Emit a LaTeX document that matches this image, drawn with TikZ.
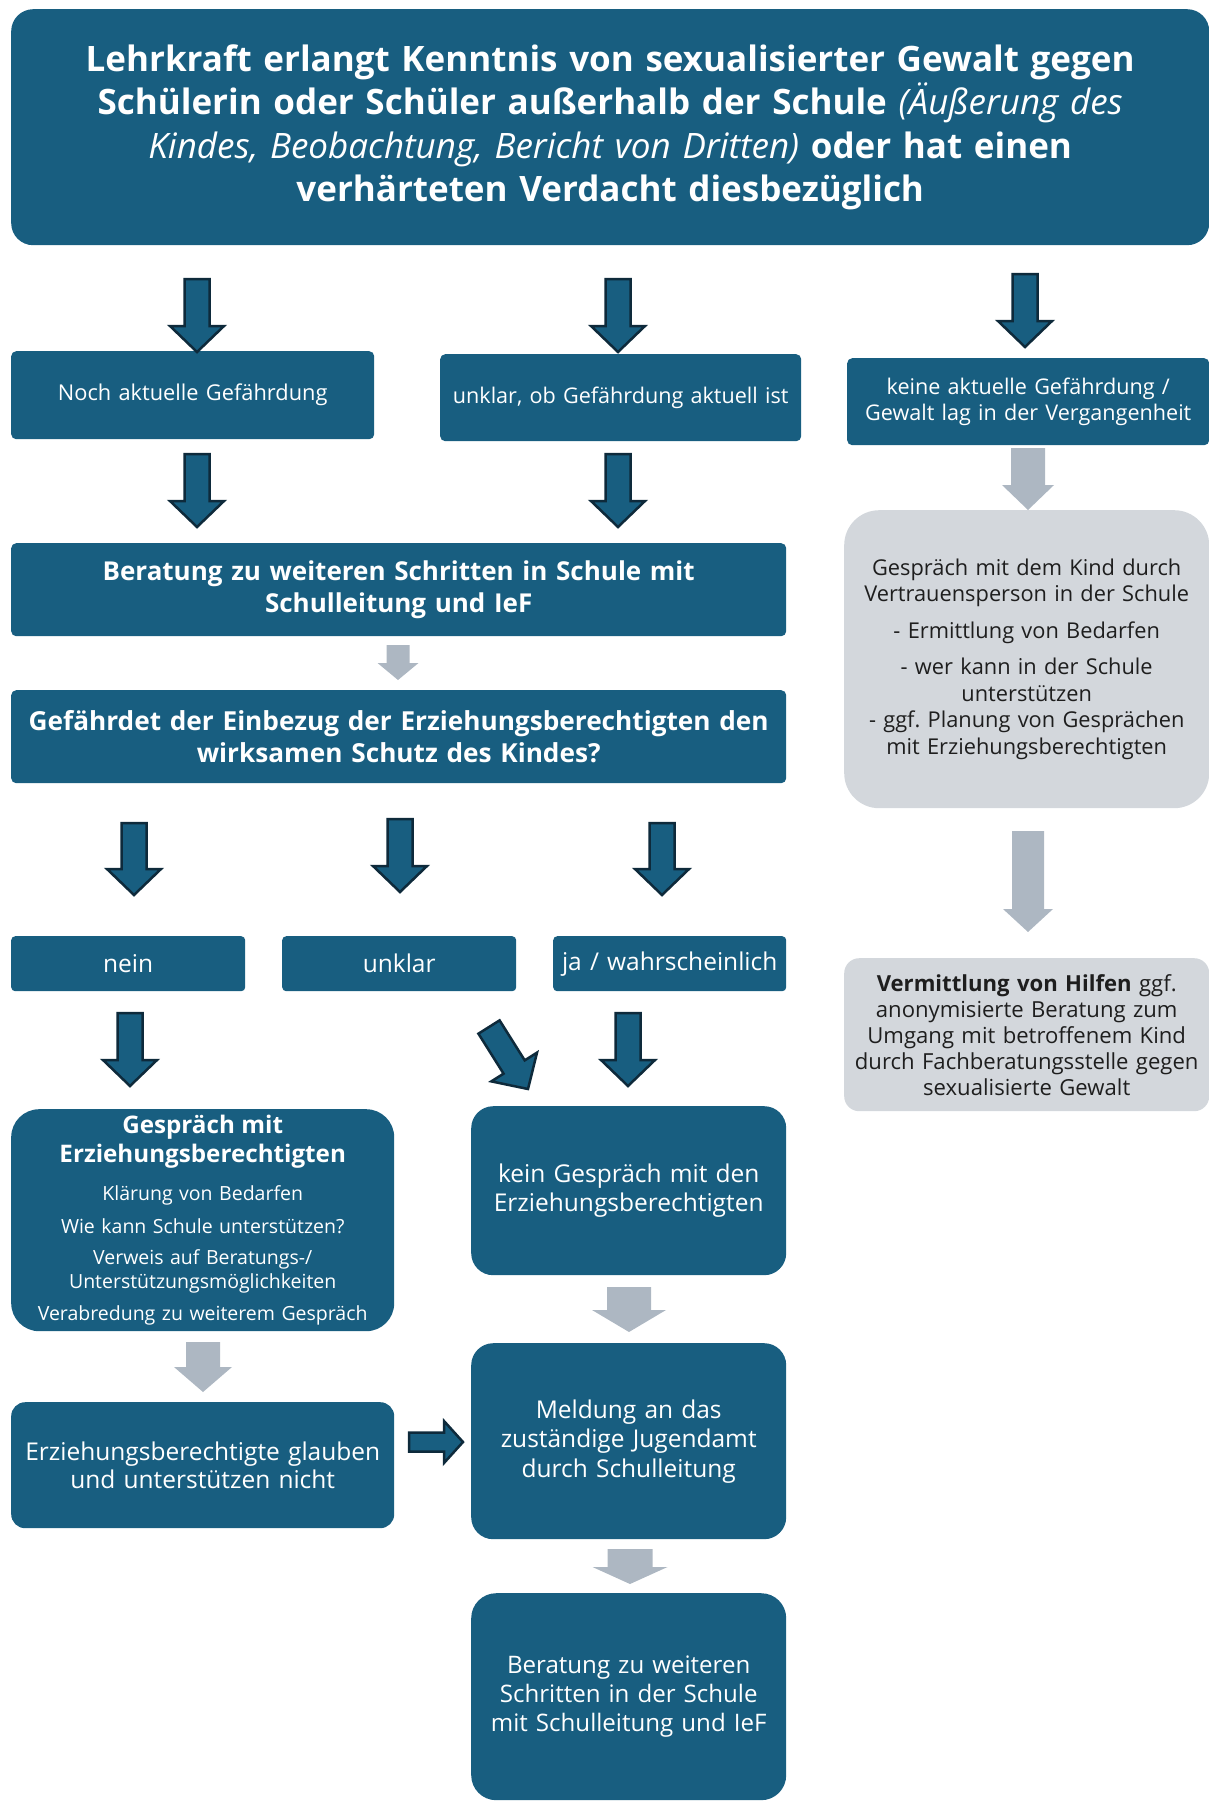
\documentclass[tikz,border=0pt]{standalone}
\usepackage{fontspec}
\setmainfont{Open Sans}
\usetikzlibrary{calc}
\definecolor{mblue}{HTML}{185E80}
\definecolor{mnavy}{HTML}{0E2A3B}
\definecolor{mgrey}{HTML}{ADB7C2}
\definecolor{mlight}{HTML}{D3D7DC}
\definecolor{mtext}{HTML}{1E1E1E}
\frenchspacing
\newcommand\fs[2]{\fontsize{#1pt}{#2pt}\selectfont}
% block arrow: style, from, to, half shaft, half head, head length
\newcommand\blockarrow[6]{%
  \coordinate (ba-n) at ($(#3)!#6pt!(#2)$);
  \path[#1] ($(#2)!#4pt!90:(#3)$) -- ($(ba-n)!#4pt!90:(#3)$) -- ($(ba-n)!#5pt!90:(#3)$) -- (#3)
    -- ($(ba-n)!#5pt!-90:(#3)$) -- ($(ba-n)!#4pt!-90:(#3)$) -- ($(#2)!#4pt!-90:(#3)$) -- cycle;}
\begin{document}
\begin{tikzpicture}[x=1pt,y=-1pt,
  bluebox/.style={fill=mblue, text=white, inner sep=0pt, anchor=north west, align=center},
  greybox/.style={fill=mlight, text=mtext, inner sep=0pt, anchor=north west, align=center},
  darrow/.style={fill=mblue, draw=mnavy, line width=2.5pt, line join=miter},
  garrow/.style={fill=mgrey}]
\useasboundingbox (0,0) rectangle (1209,1801);

\node[bluebox, rounded corners=22pt, text width=1198pt, minimum height=236pt, font=\fs{35}{43.5}] (title) at (11,9)
 {\textbf{Lehrkraft erlangt Kenntnis von sexualisierter Gewalt gegen}\\
  \textbf{Schülerin oder Schüler außerhalb der Schule} \textit{(Äußerung des}\\
  \textit{Kindes, Beobachtung, Bericht von Dritten)} \textbf{oder hat einen}\\
  \textbf{verhärteten Verdacht diesbezüglich}\par};

\node[bluebox, rounded corners=5pt, text width=363pt, minimum height=88pt, font=\fs{21.8}{26}] (n1) at (11,351)
 {Noch aktuelle Gefährdung\par};
\node[bluebox, rounded corners=5pt, text width=361pt, minimum height=87pt, font=\fs{21.6}{26}] (n2) at (440,354)
 {unklar, ob Gefährdung aktuell ist\par};
\node[bluebox, rounded corners=5pt, text width=362pt, minimum height=87pt, font=\fs{21.6}{26}] (n3) at (847,358)
 {keine aktuelle Gefährdung /\\Gewalt lag in der Vergangenheit\par};

\node[bluebox, rounded corners=5pt, text width=775pt, minimum height=93pt, font=\fs{26}{32}\bfseries] (beratung) at (11,543)
 {Beratung zu weiteren Schritten in Schule mit\\Schulleitung und IeF\par};
\node[bluebox, rounded corners=5pt, text width=775pt, minimum height=93pt, font=\fs{26.2}{32}\bfseries] (frage) at (11,690)
 {Gefährdet der Einbezug der Erziehungsberechtigten den\\wirksamen Schutz des Kindes?\par};

\node[greybox, rounded corners=35pt, text width=365pt, minimum height=298pt, font=\fs{21.8}{26.5}] (kind) at (844,510)
 {Gespräch mit dem Kind durch\\Vertrauensperson in der Schule\\[10pt]
  - Ermittlung von Bedarfen\\[10pt]- wer kann in der Schule\\unterstützen\\
  - ggf. Planung von Gesprächen\\mit Erziehungsberechtigten\par};
\node[greybox, rounded corners=15pt, text width=365pt, minimum height=153pt, font=\fs{22.1}{26}] (hilfen) at (844,958)
 {\textbf{Vermittlung von Hilfen} ggf.\\anonymisierte Beratung zum\\Umgang mit betroffenem Kind\\
  durch Fachberatungsstelle gegen\\sexualisierte Gewalt\par};

\node[bluebox, rounded corners=4pt, text width=234pt, minimum height=55pt, font=\fs{24.5}{28}] (nein) at (11,936)
 {nein\par};
\node[bluebox, rounded corners=4pt, text width=234pt, minimum height=55pt, font=\fs{24.5}{28}] (unklar) at (282,936)
 {unklar\par};
\node[bluebox, rounded corners=4pt, text width=233pt, minimum height=55pt, font=\fs{24.5}{28}] (ja) at (553,936)
 {ja / wahrscheinlich\par};

\node[bluebox, rounded corners=28pt, text width=383pt, minimum height=222pt, font=\fs{19.5}{24}] (gespraech) at (11,1109)
 {\fs{24.2}{29}\bfseries Gespräch mit\\Erziehungsberechtigten\par
  \fs{19.5}{24}\mdseries\vspace{14pt}
  Klärung von Bedarfen\\[9pt]Wie kann Schule unterstützen?\\[7pt]Verweis auf Beratungs-/\\
  Unterstützungsmöglichkeiten\\[8pt]Verabredung zu weiterem Gespräch\par};
\node[bluebox, rounded corners=22pt, text width=315pt, minimum height=169pt, font=\fs{24.5}{29}] (kein) at (471,1106)
 {kein Gespräch mit den\\Erziehungsberechtigten\par};
\node[bluebox, rounded corners=14pt, text width=383pt, minimum height=126pt, font=\fs{24.5}{28.5}] (erz) at (11,1402)
 {Erziehungsberechtigte glauben\\und unterstützen nicht\par};
\node[bluebox, rounded corners=22pt, text width=315pt, minimum height=196pt, font=\fs{24.5}{29.5}] (meldung) at (471,1343)
 {Meldung an das\\zuständige Jugendamt\\durch Schulleitung\par};
\node[bluebox, rounded corners=25pt, text width=315pt, minimum height=207pt, font=\fs{24.1}{29}] (letzte) at (471,1593)
 {Beratung zu weiteren\\Schritten in der Schule\\mit Schulleitung und IeF\par};

% dark arrows
\coordinate (d1a) at (197,279);  \coordinate (d1b) at (197,352);
\coordinate (d2a) at (618,279);  \coordinate (d2b) at (618,352);
\coordinate (d3a) at (1025,274); \coordinate (d3b) at (1025,347);
\coordinate (d4a) at (197,454);  \coordinate (d4b) at (197,527);
\coordinate (d5a) at (618,454);  \coordinate (d5b) at (618,527);
\coordinate (d6a) at (134,823);  \coordinate (d6b) at (134,895);
\coordinate (d7a) at (400,819);  \coordinate (d7b) at (400,892);
\coordinate (d8a) at (662,823);  \coordinate (d8b) at (662,895);
\coordinate (d9a) at (130,1013); \coordinate (d9b) at (130,1086);
\coordinate (d10a) at (489,1027); \coordinate (d10b) at (528,1089);
\coordinate (d11a) at (628,1013); \coordinate (d11b) at (628,1086);
\coordinate (d12a) at (409,1442); \coordinate (d12b) at (463,1442);
\foreach \i in {1,...,11}{\blockarrow{darrow}{d\i a}{d\i b}{12.5}{27}{26}}
\blockarrow{darrow}{d12a}{d12b}{9.5}{21}{19}

% grey arrows
\coordinate (g1a) at (1028,448); \coordinate (g1b) at (1028,510);
\coordinate (g2a) at (398,645);  \coordinate (g2b) at (398,680);
\coordinate (g3a) at (1028,831); \coordinate (g3b) at (1028,932);
\coordinate (g4a) at (203,1342); \coordinate (g4b) at (203,1392);
\coordinate (g5a) at (629,1287); \coordinate (g5b) at (629,1332);
\coordinate (g6a) at (630,1549); \coordinate (g6b) at (630,1584);
\blockarrow{garrow}{g1a}{g1b}{17}{26}{25}
\blockarrow{garrow}{g2a}{g2b}{11.5}{20.5}{17}
\blockarrow{garrow}{g3a}{g3b}{16}{25}{23}
\blockarrow{garrow}{g4a}{g4b}{17}{29}{25}
\blockarrow{garrow}{g5a}{g5b}{22}{37}{22}
\blockarrow{garrow}{g6a}{g6b}{22.5}{37.5}{17}
\end{tikzpicture}
\end{document}
